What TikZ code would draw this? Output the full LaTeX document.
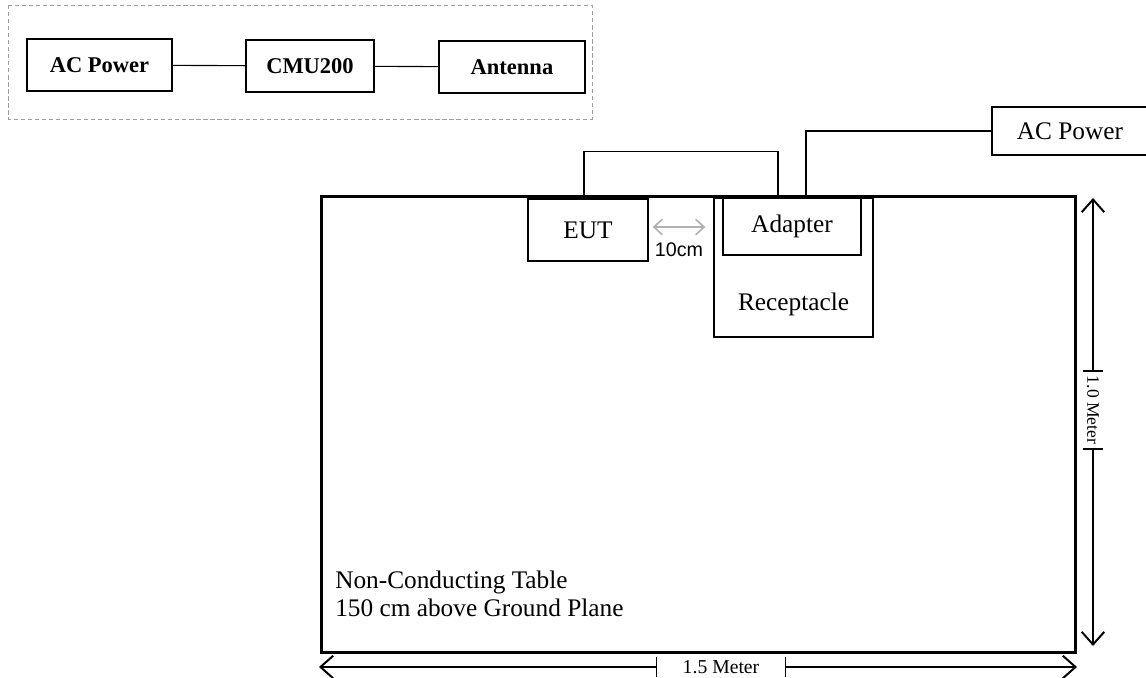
\documentclass[tikz,border=0pt]{standalone}
\usepackage{fontspec}
\setmainfont{Liberation Serif}
\newfontfamily\arialfont{Liberation Sans}
\usetikzlibrary{positioning,arrows.meta}

\begin{document}
\begin{tikzpicture}[
			x=0.025cm,
			y=-0.025cm,
			every node/.style={inner sep=0pt},
			txt/.style={font=\fontsize{18}{20}\selectfont},
			unit/.style={
					draw,
					line width=0.9pt,
					minimum height=1.3cm,
					font=\fontsize{16}{19}\selectfont\bfseries
				},
			part/.style={draw, line width=0.9pt, txt},
			dimtip/.style={>={Straight Barb[length=9pt,width=16pt,line width=1.4pt]}},
			>=Stealth
		]

		\useasboundingbox (0,0) rectangle (1146,678);

		% test setup
		\draw[gray!75, dash pattern=on 3pt off 2pt, line width=0.7pt] (8,5) rectangle (592,119);

		\node (pwr) [unit, minimum width=3.625cm] at (99.5,65) {AC Power};
		\node (cmu) [unit, minimum width=3.2cm] at (310,66) {CMU200};
		\node (ant) [unit, minimum width=3.65cm] at (512,67) {Antenna};

		\draw[line width=0.8pt] (pwr) -- (cmu);
		\draw[line width=0.8pt] (cmu) -- (ant);

		% table
		\node (table) [draw, line width=2.2pt,
			minimum width=18.825cm,
			minimum height=11.375cm] at (698.5,424.5) {};

		\node (tabletext) [txt, anchor=north west, align=left] at (335,571)
		{Non-Conducting Table\\150 cm above Ground Plane};

		\node (eut) [part, minimum width=3cm, minimum height=1.55cm] at (588,230) {EUT};

		\node (rcpt) [part,
			minimum width=3.975cm,
			minimum height=3.475cm,
			label={[txt, anchor=base, yshift=0.675cm]south:Receptacle}] at (793.5,267.5) {};

		\node (adp) [part, minimum width=3.45cm, minimum height=1.425cm] at (792,226.5) {Adapter};

		\node (mains) [part, minimum width=3.9cm, minimum height=1.2cm] at (1070,131) {AC Power};

		% cables
		\draw[line width=0.8pt] ([xshift=-0.1cm]eut.north) -- ++(0,-47) -| ([xshift=-0.35cm]adp.north);
		\draw[line width=2pt] ([xshift=0.35cm]adp.north) |- (mains.west);

		% 10cm spacing
		\draw[<->, gray!60, line width=1.2pt, >={Straight Barb[length=6pt,width=11pt]}]
		([xshift=0.1cm,yshift=0.075cm]eut.east) -- ([xshift=-0.2cm,yshift=0.075cm]eut.east -| rcpt.west);
		\node (gaplbl) [font=\arialfont\fontsize{14}{16}\selectfont] at (679,250) {10cm};

		% dimensions
		\coordinate (vtop) at (1093,198);
		\coordinate (vbot) at (1093,646);
		\node (vlbl) [rotate=-90, inner xsep=3.2pt, font=\fontsize{12.5}{14}\selectfont] at (1093,410) {1.0 Meter};
		\draw[dimtip, ->, line width=0.9pt] (vlbl.west) -- (vtop);
		\draw[dimtip, ->, line width=0.9pt] (vlbl.east) -- (vbot);
		\draw[line width=0.9pt] ([xshift=-0.25cm]vlbl.west) -- ([xshift=0.25cm]vlbl.west);
		\draw[line width=0.9pt] ([xshift=-0.25cm]vlbl.east) -- ([xshift=0.25cm]vlbl.east);

		\coordinate (hleft) at (319,667);
		\coordinate (hright) at (1077,667);
		\node (hlbl) [inner xsep=0.65cm, font=\fontsize{14}{16}\selectfont] at (721,667) {1.5 Meter};
		\draw[dimtip, ->, line width=0.9pt] (hlbl.west) -- (hleft);
		\draw[dimtip, ->, line width=0.9pt] (hlbl.east) -- (hright);
		\draw[line width=0.9pt] ([yshift=-0.25cm]hlbl.west) -- ([yshift=0.25cm]hlbl.west);
		\draw[line width=0.9pt] ([yshift=-0.25cm]hlbl.east) -- ([yshift=0.25cm]hlbl.east);

	\end{tikzpicture}
\end{document}
